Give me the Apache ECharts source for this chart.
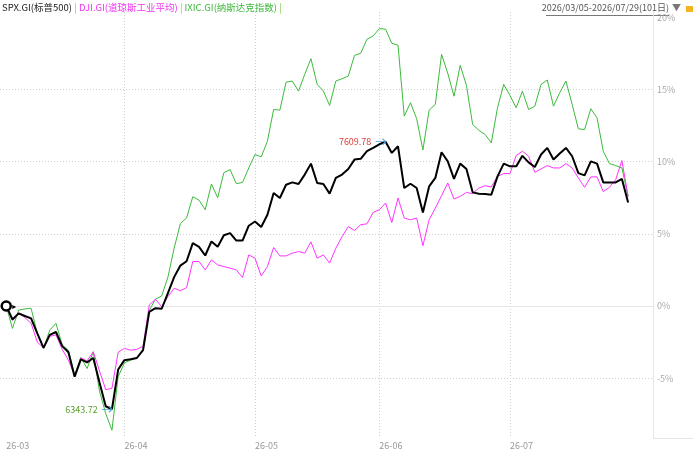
<!DOCTYPE html>
<html>
<head>
<meta charset="utf-8">
<script src="https://cdn.jsdelivr.net/npm/echarts@6/dist/echarts.min.js"></script>
<style>
  html, body { margin: 0; padding: 0; background: #fff; }
  #chart { width: 693px; height: 452px; }
</style>
</head>
<body>
<div id="chart"></div>
<script>
// trading days 2026/03/05 - 2026/07/29 (101)
const dates = [
  '2026-03-05','2026-03-06','2026-03-09','2026-03-10','2026-03-11','2026-03-12','2026-03-13','2026-03-16','2026-03-17','2026-03-18',
  '2026-03-19','2026-03-20','2026-03-23','2026-03-24','2026-03-25','2026-03-26','2026-03-27','2026-03-30','2026-03-31',
  '2026-04-01','2026-04-02','2026-04-06','2026-04-07','2026-04-08','2026-04-09','2026-04-10','2026-04-13','2026-04-14','2026-04-15',
  '2026-04-16','2026-04-17','2026-04-20','2026-04-21','2026-04-22','2026-04-23','2026-04-24','2026-04-27','2026-04-28','2026-04-29','2026-04-30',
  '2026-05-01','2026-05-04','2026-05-05','2026-05-06','2026-05-07','2026-05-08','2026-05-11','2026-05-12','2026-05-13','2026-05-14',
  '2026-05-15','2026-05-18','2026-05-19','2026-05-20','2026-05-21','2026-05-22','2026-05-26','2026-05-27','2026-05-28','2026-05-29',
  '2026-06-01','2026-06-02','2026-06-03','2026-06-04','2026-06-05','2026-06-08','2026-06-09','2026-06-10','2026-06-11','2026-06-12',
  '2026-06-15','2026-06-16','2026-06-17','2026-06-18','2026-06-22','2026-06-23','2026-06-24','2026-06-25','2026-06-26','2026-06-29','2026-06-30',
  '2026-07-01','2026-07-02','2026-07-06','2026-07-07','2026-07-08','2026-07-09','2026-07-10','2026-07-13','2026-07-14','2026-07-15',
  '2026-07-16','2026-07-17','2026-07-20','2026-07-21','2026-07-22','2026-07-23','2026-07-24','2026-07-27','2026-07-28','2026-07-29'
];
const tickLabels = ['26-03', '26-04', '26-05', '26-06', '26-07'];
const yTicks = [-5, 0, 5, 10, 15, 20];
const yGridLines = [-5, 0, 5, 10, 15];

// % change from 2026/03/05
const spx = [
  0, -0.93, -0.51, -0.69, -0.86, -1.9, -2.9, -2.0, -1.8, -2.78,
  -3.2, -4.9, -3.7, -3.9, -3.6, -5.3, -6.94, -7.15, -4.4, -3.75,
  -3.68, -3.6, -3.05, -0.4, -0.15, -0.19, 0.9, 2.0, 2.8, 3.1,
  4.35, 4.1, 3.5, 4.47, 4.1, 4.9, 5.05, 4.53, 4.53, 5.56,
  5.85, 5.47, 6.32, 7.83, 7.48, 8.4, 8.56, 8.45, 9.1, 9.86,
  8.52, 8.45, 7.78, 8.87, 9.1, 9.49, 10.14, 10.19, 10.72, 10.95,
  11.2, 11.38, 10.6, 11.06, 8.17, 8.47, 8.17, 6.48, 8.28, 8.87,
  10.65, 10.02, 8.8, 9.86, 9.49, 7.87, 7.78, 7.76, 7.71, 8.98,
  9.86, 9.67, 9.67, 10.4, 9.95, 9.63, 10.49, 10.95, 10.14, 10.56,
  10.95, 10.37, 9.2, 9.05, 10.02, 9.86, 8.56, 8.56, 8.56, 8.8,
  7.17
];
const dji = [
  0, -1.0, -0.5, -0.8, -1.2, -2.5, -2.9, -2.1, -2.0, -3.0,
  -3.75, -4.8, -3.6, -3.8, -3.17, -4.5, -5.79, -5.7, -3.2, -2.94,
  -3.06, -3.0, -2.8, 0.07, 0.47, -0.05, 0.65, 1.23, 1.06, 1.27,
  3.08, 3.08, 2.5, 3.19, 2.85, 2.73, 2.62, 2.5, 1.97, 3.54,
  3.31, 2.08, 2.73, 4.05, 3.47, 3.47, 3.66, 3.77, 3.66, 4.44,
  3.31, 3.54, 2.97, 4.0, 4.8, 5.5, 5.23, 5.63, 5.69, 6.48,
  6.67, 7.13, 5.78, 7.48, 6.09, 5.97, 6.09, 4.17, 5.97, 6.78,
  7.64, 8.52, 7.41, 7.59, 7.87, 7.78, 8.17, 8.33, 8.24, 8.98,
  9.17, 9.17, 10.42, 10.72, 10.37, 9.26, 9.49, 9.72, 9.56, 9.56,
  9.86, 9.56, 8.87, 8.22, 8.94, 8.94, 7.92, 8.22, 8.75, 10.07,
  7.59
];
const ixic = [
  0, -1.55, -0.28, -0.2, -0.16, -1.9, -2.94, -1.67, -1.2, -2.7,
  -3.06, -4.79, -3.56, -4.33, -3.17, -5.9, -7.45, -8.6, -4.9, -3.94,
  -3.75, -3.6, -3.1, -0.3, 0.47, 0.7, 2.0, 4.0, 5.7, 6.1,
  7.57, 7.33, 6.67, 8.45, 7.5, 9.24, 9.44, 8.47, 8.56, 9.56,
  10.49, 10.33, 11.41, 13.61, 13.56, 15.5, 15.58, 14.88, 16.04, 17.13,
  15.35, 14.88, 13.89, 15.58, 15.74, 15.92, 17.36, 17.5, 18.47, 18.7,
  19.21, 19.17, 18.19, 18.06, 13.15, 14.08, 12.97, 10.8, 13.56, 13.96,
  17.43, 16.11, 14.53, 16.67, 15.28, 12.57, 12.17, 11.88, 11.3, 13.73,
  15.35, 14.58, 13.73, 14.88, 13.61, 13.84, 15.35, 15.65, 13.84, 14.77,
  15.58, 13.96, 12.27, 12.22, 13.66, 13.03, 10.72, 9.86, 9.72, 9.56,
  7.59
];
const spxHigh = 7609.78;
const spxLow = 6343.72;

const font = '"Noto Sans CJK SC", "Microsoft YaHei", sans-serif';
const monthStarts = dates.map((d, i) => (i === 0 || d.slice(5, 7) !== dates[i - 1].slice(5, 7)) ? i : -1).filter(i => i >= 0);

const chart = echarts.init(document.getElementById('chart'));

const arrowPath = 'path://M0,3L10,3M7,0L10,3L7,6';

const option = {
  animation: false,
  backgroundColor: '#fff',
  title: {
    left: 2,
    top: 3,
    padding: 0,
    text: '{s|SPX.GI(标普500)}{p| | }{d|DJI.GI(道琼斯工业平均)}{p| | }{n|IXIC.GI(纳斯达克指数)}{q| |}',
    textStyle: {
      fontFamily: font,
      fontSize: 9.5,
      fontWeight: 'normal',
      rich: {
        s: { color: '#222', fontFamily: font, fontSize: 9.5 },
        d: { color: '#f032f0', fontFamily: font, fontSize: 9.5 },
        n: { color: '#3cb83c', fontFamily: font, fontSize: 9.5 },
        p: { color: '#f29a3a', fontFamily: font, fontSize: 9.5 },
        q: { color: '#7ccc4a', fontFamily: font, fontSize: 9.5 }
      }
    }
  },
  graphic: [
    { type: 'text', x: 669, y: 3, style: { text: '2026/03/05-2026/07/29(101日)', fill: '#555', font: '9px ' + font, align: 'right' } },
    { type: 'line', shape: { x1: 546, y1: 15.5, x2: 669, y2: 15.5 }, style: { stroke: '#777', lineWidth: 1 } },
    { type: 'text', x: 672, y: 3, style: { text: '▼', fill: '#777', font: '9px ' + font } },
    { type: 'rect', shape: { x: 686, y: 6, width: 7, height: 6 }, style: { fill: '#f5b31f' } },
    { type: 'line', shape: { x1: 653, y1: 438.5, x2: 693, y2: 438.5 }, style: { stroke: '#e6e6e6', lineWidth: 1 } }
  ],
  grid: { left: 0, right: 40, top: 12, bottom: 14, containLabel: false },
  xAxis: {
    type: 'category',
    data: dates,
    boundaryGap: false,
    min: -1,
    max: 104,
    axisLine: { show: true, lineStyle: { color: '#e6e6e6' } },
    axisTick: { show: false },
    axisLabel: {
      interval: (idx) => monthStarts.indexOf(idx) >= 0,
      formatter: (v) => {
        const k = monthStarts.indexOf(dates.indexOf(v));
        return k >= 0 ? tickLabels[k] : '';
      },
      align: 'left',
      color: '#999',
      fontSize: 9,
      fontFamily: font,
      margin: 3
    },
    splitLine: {
      show: true,
      interval: (idx) => idx > 0 && monthStarts.indexOf(idx) >= 0,
      lineStyle: { color: '#cfcfcf', type: [1, 2], width: 1 }
    }
  },
  yAxis: {
    type: 'value',
    position: 'right',
    min: -9.14,
    max: 20.36,
    axisLine: { show: true, lineStyle: { color: '#e6e6e6' } },
    axisTick: { show: false, customValues: yGridLines },
    axisLabel: {
      customValues: yTicks,
      formatter: '{value}%',
      color: '#aaa',
      fontSize: 9,
      fontFamily: font,
      margin: 4
    },
    splitLine: {
      show: true,
      customValues: yGridLines,
      lineStyle: { color: '#cfcfcf', type: [1, 2], width: 1 }
    }
  },
  series: [
    {
      name: 'IXIC.GI',
      type: 'line',
      data: ixic,
      symbol: 'none',
      lineStyle: { color: '#3cbb3c', width: 1 },
      z: 2
    },
    {
      name: 'DJI.GI',
      type: 'line',
      data: dji,
      symbol: 'none',
      lineStyle: { color: '#ff33ff', width: 1 },
      z: 3
    },
    {
      name: 'SPX.GI',
      type: 'line',
      data: spx,
      symbol: 'none',
      lineStyle: { color: '#000', width: 2 },
      z: 4,
      markPoint: {
        silent: true,
        data: [
          {
            type: 'max',
            symbol: arrowPath,
            symbolSize: [10, 6],
            symbolOffset: [-5, 0],
            itemStyle: { color: 'none', borderColor: '#4aa0d8', borderWidth: 1 },
            label: {
              show: true, position: 'left', distance: 1,
              formatter: spxHigh.toFixed(2),
              color: '#e23b3b', fontSize: 9, fontFamily: font
            }
          },
          {
            type: 'min',
            symbol: arrowPath,
            symbolSize: [10, 6],
            symbolOffset: [-5, 0],
            itemStyle: { color: 'none', borderColor: '#4aa0d8', borderWidth: 1 },
            label: {
              show: true, position: 'left', distance: 1,
              formatter: spxLow.toFixed(2),
              color: '#5a9e2e', fontSize: 9, fontFamily: font
            }
          },
          {
            coord: [0, spx[0]],
            symbol: 'circle',
            symbolSize: 9,
            itemStyle: { color: '#fff', borderColor: '#000', borderWidth: 2.5 },
            label: { show: false }
          },
          {
            coord: [0, spx[0]],
            symbol: 'triangle',
            symbolRotate: -90,
            symbolSize: 4,
            symbolOffset: [8, 1],
            itemStyle: { color: '#000' },
            label: { show: false }
          }
        ]
      }
    }
  ]
};

chart.setOption(option);
</script>
</body>
</html>
